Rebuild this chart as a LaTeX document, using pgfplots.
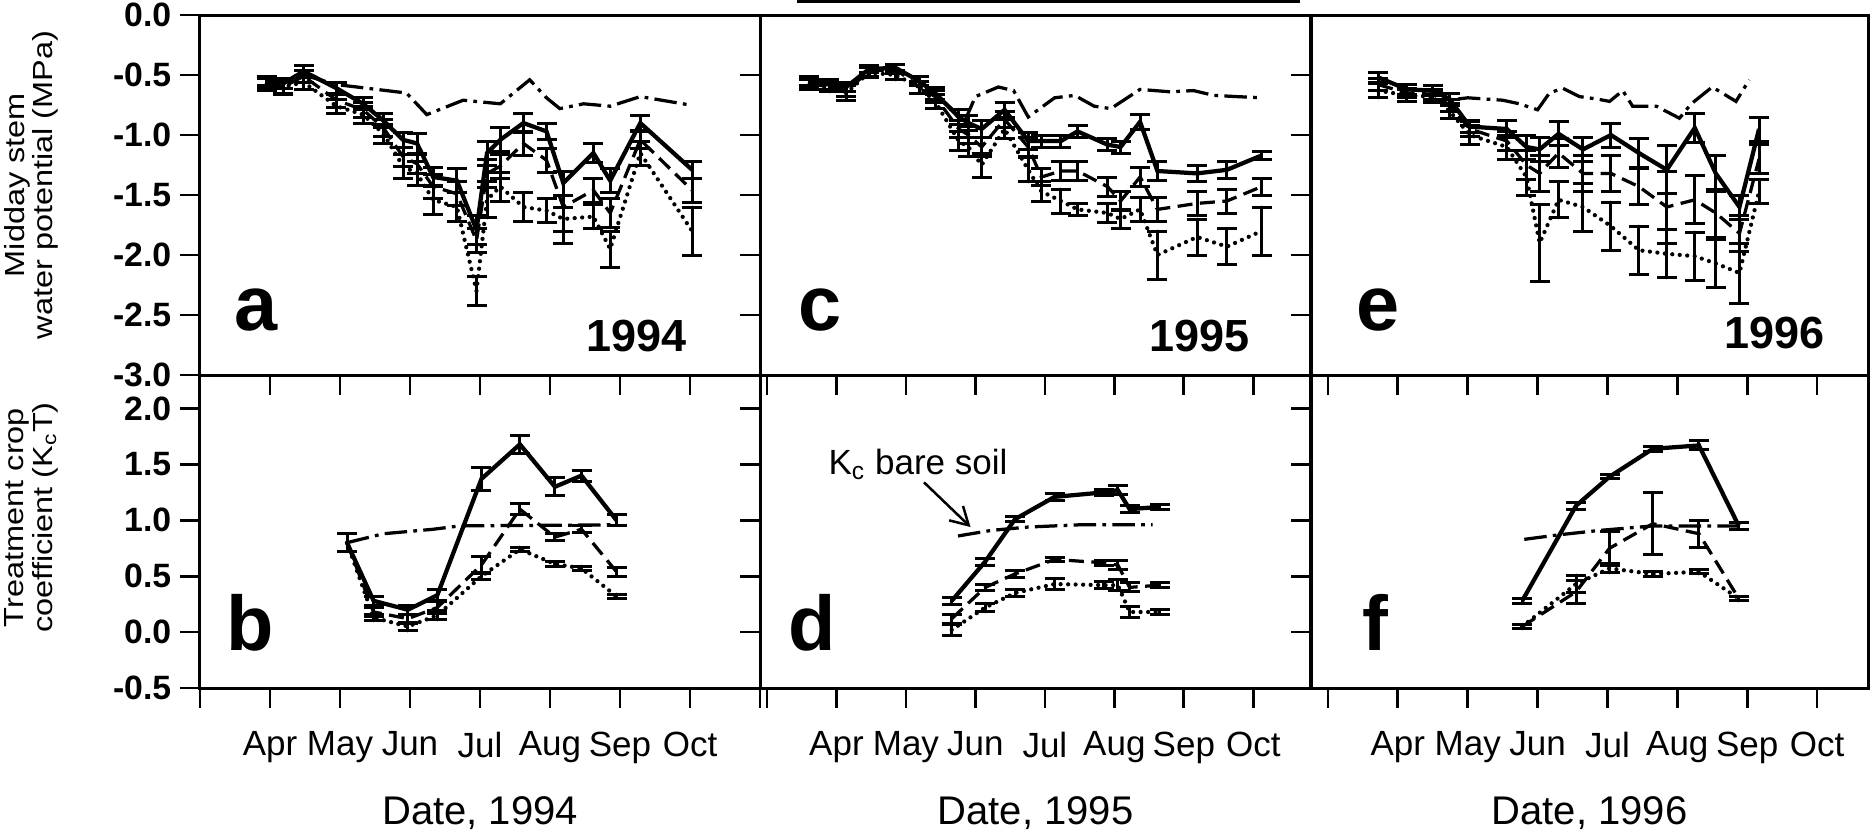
\documentclass[border=0pt]{standalone}
\usepackage{fontspec}
\setmainfont{Liberation Sans}
\usepackage{pgfplots}
\usepackage{pgfplotstable}
\pgfplotsset{compat=1.18}
\usetikzlibrary{arrows.meta}

% stem water potential, columns: month, solid, dashed, dotted (+ errors)
\pgfplotstableread{
m S eS D eD T eT
3.95 -0.55 0.04 -0.57 0.04 -0.58 0.05
4.19 -0.57 0.04 -0.60 0.05 -0.60 0.06
4.48 -0.47 0.05 -0.51 0.05 -0.56 0.06
4.95 -0.61 0.05 -0.71 0.06 -0.76 0.06
5.33 -0.74 0.05 -0.79 0.06 -0.83 0.07
5.62 -0.88 0.06 -0.94 0.07 -0.99 0.08
5.90 -1.04 0.06 -1.18 0.08 -1.26 0.10
6.10 -1.07 0.08 -1.24 0.08 -1.32 0.10
6.33 -1.35 0.08 -1.43 0.10 -1.54 0.12
6.67 -1.38 0.10 -1.49 0.10 -1.60 0.12
6.95 -1.79 0.12 -1.88 0.10 -2.30 0.12
7.10 -1.15 0.10 -1.32 0.12 -1.54 0.15
7.29 -1.04 0.10 -1.26 0.10 -1.43 0.12
7.62 -0.90 0.08 -1.07 0.10 -1.60 0.12
7.95 -0.97 0.07 -1.21 0.10 -1.63 0.10
8.19 -1.40 0.10 -1.60 0.30 -1.70 0.10
8.62 -1.15 0.08 -1.46 0.10 -1.68 0.10
8.86 -1.38 0.10 -1.65 0.12 -1.95 0.15
9.29 -0.90 0.06 -1.04 0.07 -1.15 0.10
10.03 -1.29 0.07 -1.46 0.10 -1.80 0.20
}\wpA
\pgfplotstableread{
m v
4.48 -0.50
4.95 -0.58
5.24 -0.60
5.95 -0.65
6.24 -0.83
6.76 -0.71
7.29 -0.74
7.71 -0.54
7.95 -0.69
8.14 -0.78
8.48 -0.74
8.86 -0.76
9.29 -0.68
10.00 -0.75
}\refA

\pgfplotstableread{
m S eS D eD T eT
3.61 -0.55 0.04 -0.57 0.04 -0.58 0.04
3.90 -0.58 0.04 -0.60 0.04 -0.60 0.04
4.14 -0.60 0.04 -0.63 0.05 -0.65 0.06
4.47 -0.45 0.03 -0.47 0.04 -0.48 0.04
4.85 -0.44 0.03 -0.45 0.04 -0.50 0.04
5.19 -0.55 0.04 -0.60 0.05 -0.60 0.05
5.42 -0.65 0.05 -0.68 0.05 -0.72 0.06
5.76 -0.85 0.06 -0.95 0.07 -1.05 0.08
5.90 -0.90 0.06 -1.00 0.07 -1.10 0.08
6.09 -0.95 0.07 -1.10 0.08 -1.25 0.10
6.42 -0.79 0.06 -0.87 0.07 -0.95 0.08
6.76 -1.05 0.07 -1.10 0.08 -1.29 0.10
6.95 -1.05 0.05 -1.35 0.07 -1.47 0.08
7.23 -1.05 0.05 -1.30 0.08 -1.55 0.10
7.47 -0.97 0.05 -1.30 0.08 -1.62 0.05
7.90 -1.08 0.05 -1.43 0.08 -1.65 0.08
8.09 -1.10 0.05 -1.55 0.08 -1.70 0.08
8.37 -0.89 0.06 -1.35 0.08 -1.62 0.10
8.62 -1.30 0.08 -1.62 0.10 -2.00 0.20
9.19 -1.32 0.07 -1.57 0.10 -1.85 0.15
9.62 -1.29 0.07 -1.55 0.10 -1.93 0.15
10.12 -1.17 0.03 -1.43 0.07 -1.80 0.20
}\wpC
\pgfplotstableread{
m v
5.42 -0.66
5.85 -0.88
6.00 -0.68
6.33 -0.60
6.55 -0.63
6.76 -0.85
7.14 -0.69
7.43 -0.67
7.71 -0.76
7.95 -0.78
8.37 -0.62
8.80 -0.64
9.14 -0.63
9.43 -0.67
9.76 -0.68
10.14 -0.69
}\refC

\pgfplotstableread{
m S eS D eD T eT
3.72 -0.52 0.04 -0.58 0.05 -0.63 0.06
4.13 -0.62 0.04 -0.65 0.04 -0.67 0.05
4.50 -0.63 0.04 -0.66 0.04 -0.68 0.05
4.74 -0.70 0.05 -0.75 0.05 -0.80 0.06
5.03 -0.93 0.05 -0.95 0.06 -1.00 0.08
5.56 -0.95 0.07 -1.05 0.08 -1.10 0.10
5.84 -1.10 0.10 -1.25 0.12 -1.35 0.15
6.03 -1.12 0.10 -1.32 0.15 -1.90 0.32
6.30 -0.99 0.10 -1.15 0.12 -1.54 0.15
6.65 -1.12 0.10 -1.32 0.15 -1.60 0.20
7.05 -1.00 0.10 -1.32 0.15 -1.76 0.20
7.45 -1.15 0.12 -1.43 0.15 -1.96 0.20
7.85 -1.29 0.20 -1.60 0.30 -1.99 0.20
8.25 -0.94 0.12 -1.54 0.20 -2.01 0.20
8.55 -1.32 0.15 -1.65 0.20 -2.07 0.20
8.89 -1.60 0.10 -1.82 0.15 -2.15 0.25
9.17 -0.95 0.10 -1.20 0.12 -1.47 0.10
}\wpE
\pgfplotstableread{
m v
4.86 -0.70
5.00 -0.69
5.50 -0.71
5.74 -0.74
6.00 -0.79
6.17 -0.65
6.36 -0.61
6.60 -0.68
6.85 -0.70
7.03 -0.72
7.22 -0.63
7.36 -0.76
7.70 -0.76
8.03 -0.86
8.20 -0.74
8.50 -0.60
8.84 -0.72
9.03 -0.54
}\refE

% treatment crop coefficients
\pgfplotstableread{
m S eS D eD T eT
5.10 0.80 0.08 0.80 0.08 0.80 0.08
5.48 0.28 0.04 0.18 0.04 0.13 0.03
5.97 0.20 0.04 0.12 0.04 0.05 0.04
6.39 0.33 0.05 0.22 0.05 0.15 0.04
7.02 1.37 0.10 0.60 0.08 0.50 0.03
7.57 1.68 0.08 1.10 0.05 0.74 0.02
8.07 1.30 0.08 0.85 0.03 0.61 0.02
8.45 1.40 0.05 0.92 0.03 0.57 0.02
8.95 1.00 0.05 0.54 0.04 0.32 0.02
}\kcB
\pgfplotstableread{
m v
5.10 0.80
5.62 0.88
6.33 0.92
6.71 0.95
8.95 0.96
}\soilB

\pgfplotstableread{
m S eS D eD T eT
5.66 0.28 0.03 0.12 0.04 0.02 0.05
6.14 0.63 0.03 0.40 0.03 0.22 0.04
6.57 1.01 0.02 0.52 0.03 0.35 0.03
7.14 1.21 0.03 0.65 0.02 0.43 0.05
7.85 1.25 0.03 0.62 0.02 0.42 0.03
8.05 1.27 0.04 0.60 0.04 0.42 0.05
8.22 1.10 0.03 0.40 0.04 0.18 0.05
8.65 1.12 0.02 0.42 0.02 0.18 0.02
}\kcD
\pgfplotstableread{
m v
5.75 0.86
6.23 0.91
6.76 0.94
7.50 0.96
8.55 0.96
}\soilD

\pgfplotstableread{
m S eS D eD T eT
5.78 0.28 0.02 0.05 0.02 0.05 0.02
6.55 1.13 0.03 0.36 0.10 0.43 0.08
7.03 1.39 0.02 0.75 0.15 0.57 0.04
7.65 1.64 0.02 0.97 0.28 0.52 0.02
8.31 1.67 0.04 0.88 0.12 0.54 0.02
8.88 0.95 0.03 0.30 0.02 0.30 0.02
}\kcF
\pgfplotstableread{
m v
5.81 0.83
6.30 0.87
6.89 0.91
7.65 0.95
8.31 0.95
8.98 0.95
}\soilF

\pgfplotsset{
  panel/.style={scale only axis, anchor=north west, clip=false,
    tick align=outside, xtick pos=bottom, ytick pos=left,
    major tick length=8pt, tick style={line width=1.1pt, black},
    axis line style={line width=1.2pt},
    xtick={3,...,11}, xticklabels={}},
  top/.style={panel, height=144pt, ymin=-3, ymax=0,
    ytick={-3,-2.5,...,0}, yticklabels={}},
  bot/.style={panel, height=125.2pt, ymin=-0.5, ymax=2.3,
    ytick={-0.5,0,...,2}, yticklabels={},
    xticklabels={,Apr,May,Jun,Jul,Aug,Sep,Oct,},
    xticklabel style={font=\fontsize{14}{14}\selectfont, yshift=-6pt},
    xlabel style={at={(axis description cs:0.5,0)}, anchor=base,
      yshift=-54.4pt, font=\fontsize{16}{16}\selectfont}},
  ylab/.style={yticklabel style={font=\bfseries\fontsize{13.5}{13.5}\selectfont}},
  ebar/.style={error bars/.cd, y dir=both, y explicit,
    error bar style={line width=1.2pt, solid},
    error mark options={rotate=90, line width=1.2pt, mark size=4pt, solid}},
  S/.style={black, line width=1.7pt, solid, ebar},
  D/.style={black, line width=1.3pt, dash pattern=on 6pt off 3pt, ebar},
  T/.style={black, line width=1.7pt, line cap=round, dash pattern=on 0pt off 3pt, ebar},
  DD/.style={black, line width=1.3pt, dash pattern=on 9pt off 2.5pt on 1.5pt off 2.5pt},
}
\tikzset{
  letter/.style={anchor=base west, font=\bfseries\fontsize{31}{31}\selectfont},
  year/.style={anchor=base east, font=\bfseries\fontsize{18}{18}\selectfont},
  sidelab/.style={rotate=90, font=\fontsize{13}{13}\selectfont},
}

\begin{document}
\begin{tikzpicture}
\useasboundingbox (0,0) rectangle (749.6pt,-334.8pt);

% 1994
\begin{axis}[top, ylab, at={(80pt,-6pt)}, width=224pt, xmin=3, xmax=11,
  yticklabels={-3.0,-2.5,-2.0,-1.5,-1.0,-0.5,0.0}]
  \addplot[DD] table[x=m, y=v] {\refA};
  \addplot[T] table[x=m, y=T, y error=eT] {\wpA};
  \addplot[D] table[x=m, y=D, y error=eD] {\wpA};
  \addplot[S] table[x=m, y=S, y error=eS] {\wpA};
  \node[letter] at (rel axis cs:0.045,0.125) {a};
  \node[year] at (rel axis cs:0.884,0.064) {1994};
\end{axis}
\begin{axis}[bot, ylab, at={(80pt,-150pt)}, width=224pt, xmin=3, xmax=11,
  yticklabels={-0.5,0.0,0.5,1.0,1.5,2.0},
  xlabel={Date, 1994}]
  \addplot[DD] table[x=m, y=v] {\soilB};
  \addplot[T] table[x=m, y=T, y error=eT] {\kcB};
  \addplot[D] table[x=m, y=D, y error=eD] {\kcB};
  \addplot[S] table[x=m, y=S, y error=eS] {\kcB};
  \node[letter] at (rel axis cs:0.032,0.12) {b};
\end{axis}

% 1995
\begin{axis}[top, at={(304pt,-6pt)}, width=220.4pt, xmin=2.9, xmax=10.83]
  \addplot[DD] table[x=m, y=v] {\refC};
  \addplot[T] table[x=m, y=T, y error=eT] {\wpC};
  \addplot[D] table[x=m, y=D, y error=eD] {\wpC};
  \addplot[S] table[x=m, y=S, y error=eS] {\wpC};
  \node[letter] at (rel axis cs:0.054,0.125) {c};
  \node[year] at (rel axis cs:0.904,0.064) {1995};
\end{axis}
\begin{axis}[bot, at={(304pt,-150pt)}, width=220.4pt, xmin=2.9, xmax=10.83,
  xlabel={Date, 1995}]
  \addplot[DD] table[x=m, y=v] {\soilD};
  \addplot[T] table[x=m, y=T, y error=eT] {\kcD};
  \addplot[D] table[x=m, y=D, y error=eD] {\kcD};
  \addplot[S] table[x=m, y=S, y error=eS] {\kcD};
  \node[letter] at (rel axis cs:0.036,0.12) {d};
  \node[anchor=base west, font=\fontsize{14}{14}\selectfont] at (axis cs:3.76,1.41) {K\textsubscript{c} bare soil};
  \draw[line width=1pt, -{Straight Barb[length=7pt, width=8pt]}] (axis cs:5.26,1.34) -- (axis cs:5.93,0.94);
\end{axis}

% 1996
\begin{axis}[top, at={(524.4pt,-6pt)}, width=222.8pt, xmin=2.757, xmax=10.73]
  \addplot[DD] table[x=m, y=v] {\refE};
  \addplot[T] table[x=m, y=T, y error=eT] {\wpE};
  \addplot[D] table[x=m, y=D, y error=eD] {\wpE};
  \addplot[S] table[x=m, y=S, y error=eS] {\wpE};
  \node[letter] at (rel axis cs:0.065,0.125) {e};
  \node[year] at (rel axis cs:0.937,0.075) {1996};
\end{axis}
\begin{axis}[bot, at={(524.4pt,-150pt)}, width=222.8pt, xmin=2.757, xmax=10.73,
  xlabel={Date, 1996}]
  \addplot[DD] table[x=m, y=v] {\soilF};
  \addplot[T] table[x=m, y=T, y error=eT] {\kcF};
  \addplot[D] table[x=m, y=D, y error=eD] {\kcF};
  \addplot[S] table[x=m, y=S, y error=eS] {\kcF};
  \node[letter] at (rel axis cs:0.077,0.12) {f};
\end{axis}

% shared y labels
\node[sidelab] at (13pt,-74pt)
  {\scalebox{1}[0.85]{\begin{tabular}{@{}c@{}}Midday stem\\water potential (MPa)\end{tabular}}};
\node[sidelab] at (13pt,-207pt)
  {\scalebox{1}[0.85]{\begin{tabular}{@{}c@{}}Treatment crop\\coefficient (K\textsubscript{c}T)\end{tabular}}};
% stray rule at the top edge of the scan
\draw[line width=1.3pt] (318.8pt,-0.6pt) -- (520pt,-0.6pt);
\end{tikzpicture}
\end{document}
